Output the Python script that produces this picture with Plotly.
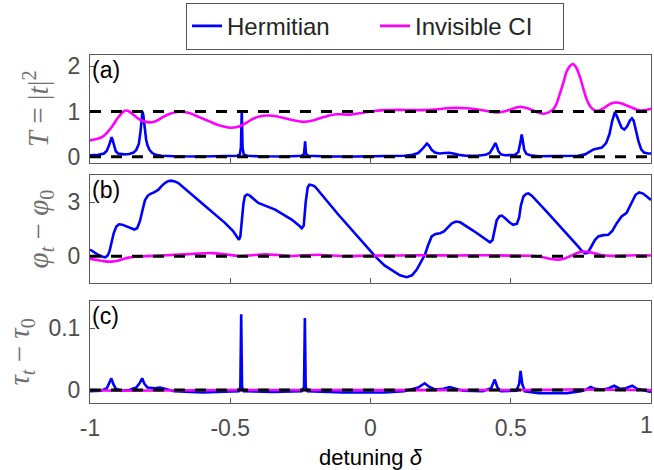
import plotly.graph_objects as go

# ---------------- data ----------------
herm_T_x = [-1.0, -0.97, -0.95, -0.94, -0.932, -0.926, -0.923, -0.92, -0.915, -0.908, -0.9, -0.88, -0.86,
            -0.845, -0.835, -0.826, -0.82, -0.816, -0.813, -0.81, -0.806, -0.8, -0.795, -0.788, -0.778, -0.765,
            -0.745, -0.7, -0.6, -0.5, -0.475, -0.466, -0.462, -0.459, -0.456, -0.452, -0.44, -0.4, -0.3, -0.245,
            -0.237, -0.233, -0.23, -0.222, -0.15, -0.05, 0.05, 0.12, 0.15, 0.17, 0.185, 0.195, 0.201, 0.208, 0.218,
            0.23, 0.245, 0.265, 0.28, 0.295, 0.315, 0.34, 0.38, 0.41, 0.425, 0.435, 0.442, 0.445, 0.449, 0.456,
            0.465, 0.48, 0.515, 0.527, 0.534, 0.539, 0.543, 0.548, 0.556, 0.57, 0.6, 0.7, 0.74, 0.765, 0.78, 0.795,
            0.81, 0.825, 0.84, 0.852, 0.862, 0.87, 0.876, 0.885, 0.895, 0.905, 0.915, 0.925, 0.932, 0.938, 0.945,
            0.955, 0.965, 0.975, 0.99, 1.0]
herm_T_y = [0.03, 0.04, 0.07, 0.13, 0.25, 0.39, 0.43, 0.38, 0.24, 0.12, 0.07, 0.05, 0.06,
            0.09, 0.15, 0.28, 0.55, 0.85, 1.0, 0.92, 0.65, 0.38, 0.25, 0.15, 0.08, 0.04,
            0.02, 0.01, 0.005, 0.01, 0.02, 0.05, 0.2, 1.0, 0.2, 0.05, 0.02, 0.008, 0.005, 0.02,
            0.06, 0.34, 0.06, 0.02, 0.005, 0.005, 0.008, 0.02, 0.04, 0.08, 0.17, 0.26, 0.29, 0.25, 0.15,
            0.09, 0.07, 0.08, 0.085, 0.07, 0.04, 0.02, 0.02, 0.04, 0.08, 0.18, 0.29, 0.30, 0.25, 0.12,
            0.05, 0.03, 0.04, 0.10, 0.30, 0.49, 0.35, 0.15, 0.06, 0.03, 0.01, 0.01, 0.02, 0.05, 0.10, 0.16,
            0.18, 0.20, 0.30, 0.50, 0.80, 0.96, 0.93, 0.78, 0.64, 0.60, 0.67, 0.80, 0.85, 0.80, 0.60,
            0.35, 0.16, 0.09, 0.07, 0.07]

invis_T_x = [-1.0, -0.97, -0.953, -0.935, -0.92, -0.905, -0.893, -0.882, -0.872, -0.86, -0.846, -0.83, -0.816,
             -0.8, -0.78, -0.76, -0.739, -0.715, -0.69, -0.665, -0.643, -0.62, -0.597, -0.57, -0.548, -0.52, -0.5,
             -0.48, -0.459, -0.44, -0.419, -0.395, -0.37, -0.34, -0.312, -0.28, -0.24, -0.205, -0.169, -0.14, -0.12,
             -0.1, -0.073, -0.04, 0.0, 0.046, 0.1, 0.165, 0.224, 0.27, 0.307, 0.345, 0.379, 0.415, 0.45, 0.475,
             0.497, 0.52, 0.539, 0.56, 0.58, 0.6, 0.616, 0.635, 0.652, 0.665, 0.676, 0.688, 0.699, 0.71, 0.721,
             0.733, 0.747, 0.76, 0.771, 0.785, 0.8, 0.815, 0.83, 0.842, 0.86, 0.875, 0.89, 0.91, 0.93, 0.95, 0.965,
             0.98, 1.0]
invis_T_y = [0.36, 0.40, 0.45, 0.56, 0.68, 0.82, 0.92, 0.99, 1.02, 1.0, 0.93, 0.85, 0.80,
             0.77, 0.76, 0.80, 0.88, 0.95, 0.99, 0.99, 0.96, 0.90, 0.84, 0.77, 0.71, 0.66, 0.64,
             0.65, 0.69, 0.76, 0.84, 0.89, 0.91, 0.90, 0.86, 0.81, 0.77, 0.80, 0.87, 0.92, 0.94,
             0.935, 0.93, 0.96, 1.0, 1.03, 1.035, 1.03, 1.04, 1.07, 1.08, 1.07, 1.05, 1.01, 0.98, 1.0,
             1.04, 1.09, 1.10, 1.07, 1.02, 0.97, 0.95, 0.98, 1.05, 1.20, 1.41, 1.65, 1.88, 2.0, 2.05,
             1.98, 1.76, 1.48, 1.26, 1.10, 1.02, 1.02, 1.07, 1.12, 1.18, 1.20, 1.19, 1.14, 1.09, 1.04, 1.02,
             1.03, 1.06]

herm_phi_x = [-1.0, -0.985, -0.97, -0.955, -0.945, -0.937, -0.93, -0.922, -0.915, -0.906, -0.897, -0.885, -0.87,
              -0.855, -0.842, -0.832, -0.822, -0.812, -0.804, -0.795, -0.786, -0.77, -0.756, -0.745, -0.733, -0.722,
              -0.711, -0.698, -0.685, -0.602, -0.519, -0.49, -0.475, -0.469, -0.464, -0.459, -0.453, -0.448, -0.44,
              -0.43, -0.4, -0.34, -0.281, -0.255, -0.245, -0.238, -0.231, -0.224, -0.218, -0.208, -0.198, -0.115,
              0.011, 0.022, 0.05, 0.081, 0.105, 0.129, 0.148, 0.165, 0.18, 0.194, 0.205, 0.218, 0.232, 0.248, 0.262,
              0.275, 0.29, 0.305, 0.32, 0.367, 0.41, 0.426, 0.435, 0.443, 0.45, 0.46, 0.468, 0.48, 0.495, 0.509,
              0.522, 0.53, 0.536, 0.545, 0.555, 0.563, 0.575, 0.628, 0.699, 0.74, 0.753, 0.765, 0.775, 0.789, 0.8,
              0.812, 0.83, 0.848, 0.862, 0.878, 0.895, 0.913, 0.922, 0.931, 0.945, 0.958, 0.97, 0.985, 1.0]
herm_phi_y = [0.38, 0.22, 0.07, -0.02, -0.05, 0.05, 0.3, 0.85, 1.3, 1.65, 1.77, 1.75, 1.66,
              1.55, 1.48, 1.55, 1.94, 2.6, 3.1, 3.33, 3.44, 3.55, 3.68, 3.88, 4.05, 4.15,
              4.18, 4.14, 4.05, 2.95, 1.85, 1.4, 1.05, 0.92, 1.1, 1.94, 2.9, 3.32, 3.42,
              3.35, 2.95, 2.58, 2.03, 1.7, 1.55, 1.7, 3.0, 3.8, 3.96, 3.93, 3.86, 2.31,
              0.11, -0.09, -0.5, -0.82, -1.05, -1.15, -1.05, -0.73, -0.3, 0.09, 0.6, 1.1, 1.24, 1.28, 1.38,
              1.6, 1.82, 1.92, 1.88, 1.41, 0.92, 0.77, 0.9, 1.5, 2.0, 2.22, 2.25, 2.1, 1.88, 1.74,
              1.8, 2.15, 2.8, 3.3, 3.45, 3.48, 3.35, 2.47, 1.28, 0.55, 0.3, 0.17, 0.2, 0.55, 0.9,
              1.1, 1.17, 1.19, 1.4, 1.83, 2.2, 2.4, 2.7, 3.02, 3.4, 3.53, 3.48, 3.3, 3.11]

invis_phi_x = [-1.0, -0.97, -0.945, -0.923, -0.9, -0.88, -0.863, -0.84, -0.8, -0.75, -0.7, -0.661, -0.62, -0.566,
               -0.52, -0.471, -0.43, -0.376, -0.33, -0.281, -0.24, -0.186, -0.14, -0.08, -0.03, 0.0, 0.1, 0.2, 0.3,
               0.4, 0.5, 0.57, 0.61, 0.645, 0.67, 0.695, 0.723, 0.745, 0.765, 0.79, 0.818, 0.85, 0.9, 0.95, 1.0]
invis_phi_y = [-0.14, -0.22, -0.28, -0.29, -0.24, -0.14, -0.07, -0.02, 0.01, 0.04, 0.08, 0.11, 0.15, 0.18,
               0.12, 0.02, 0.05, 0.11, 0.07, 0.02, 0.06, 0.09, 0.05, 0.01, 0.03, 0.04, 0.05, 0.06, 0.05,
               0.06, 0.04, 0.03, -0.04, -0.15, -0.18, -0.10, 0.09, 0.22, 0.27, 0.20, 0.09, 0.03, 0.04, 0.06, 0.05]

herm_tau_x = [-1.0, -0.96, -0.94, -0.932, -0.924, -0.917, -0.908, -0.89, -0.86, -0.835, -0.822, -0.814, -0.806,
              -0.795, -0.77, -0.75, -0.73, -0.7, -0.6, -0.5, -0.47, -0.464, -0.461, -0.458, -0.452, -0.35, -0.245,
              -0.237, -0.234, -0.231, -0.224, -0.1, 0.05, 0.12, 0.15, 0.17, 0.193, 0.21, 0.23, 0.26, 0.282, 0.3,
              0.33, 0.4, 0.43, 0.443, 0.452, 0.465, 0.52, 0.53, 0.535, 0.541, 0.55, 0.6, 0.7, 0.75, 0.77, 0.785,
              0.8, 0.83, 0.85, 0.869, 0.89, 0.91, 0.933, 0.95, 0.975, 1.0]
herm_tau_y = [-0.002, -0.001, 0.003, 0.01, 0.019, 0.01, 0.002, -0.001, 0.0, 0.004, 0.012, 0.019, 0.01,
              0.004, 0.003, 0.004, 0.002, -0.002, -0.004, -0.003, -0.002, 0.005, 0.123, 0.005, -0.002, -0.003, -0.002,
              0.005, 0.117, 0.005, -0.002, -0.004, -0.004, -0.002, 0.001, 0.004, 0.011, 0.005, 0.001, 0.002, 0.005, 0.003,
              -0.001, -0.002, 0.003, 0.017, 0.005, -0.002, -0.001, 0.01, 0.031, 0.01, -0.002, -0.005, -0.005, -0.002, 0.001, 0.005,
              0.002, 0.001, 0.003, 0.007, 0.002, 0.003, 0.007, 0.002, -0.001, -0.003]

invis_tau_x = [-1.0, -0.9, -0.5, 0.0, 0.5, 0.72, 1.0]
invis_tau_y = [0.0, -0.001, 0.0, 0.0, 0.0, 0.001, 0.0]

x_tickvals = [-1, -0.5, 0, 0.5, 1]
x_ticktext = ["-1", "-0.5", "0", "0.5", "1"]
panel_labels = ["(a)", "(b)", "(c)"]

# ---------------- figure ----------------
BLUE = "#0000ff"
MAG = "#ff00ff"
LW = 2.6
SANS = "Liberation Sans, Arial, sans-serif"

fig = go.Figure()
fig.add_trace(go.Scatter(x=herm_T_x, y=herm_T_y, mode="lines", name="Hermitian",
                         line=dict(color=BLUE, width=LW), xaxis="x", yaxis="y"))
fig.add_trace(go.Scatter(x=invis_T_x, y=invis_T_y, mode="lines", name="Invisible CI",
                         line=dict(color=MAG, width=LW, shape="spline", smoothing=0.6), xaxis="x", yaxis="y"))
fig.add_trace(go.Scatter(x=herm_phi_x, y=herm_phi_y, mode="lines", showlegend=False,
                         line=dict(color=BLUE, width=LW), xaxis="x2", yaxis="y2"))
fig.add_trace(go.Scatter(x=invis_phi_x, y=invis_phi_y, mode="lines", showlegend=False,
                         line=dict(color=MAG, width=LW, shape="spline", smoothing=0.6), xaxis="x2", yaxis="y2"))
fig.add_trace(go.Scatter(x=herm_tau_x, y=herm_tau_y, mode="lines", showlegend=False,
                         line=dict(color=BLUE, width=LW), xaxis="x3", yaxis="y3"))
fig.add_trace(go.Scatter(x=invis_tau_x, y=invis_tau_y, mode="lines", showlegend=False,
                         line=dict(color=MAG, width=LW, shape="spline"), xaxis="x3", yaxis="y3"))

# dashed reference lines
ref_lines = [("y", 0), ("y", 1), ("y2", 0), ("y3", 0)]
for yref, val in ref_lines:
    xr = {"y": "x", "y2": "x2", "y3": "x3"}[yref]
    fig.add_shape(type="line", xref=f"{xr} domain", x0=0, x1=1, yref=yref, y0=val, y1=val,
                  line=dict(color="black", width=3, dash="11px,10px"), layer="above")

AX_COL = "#5a5a5a"
TICK_FONT = dict(family=SANS, size=23, color="#4d4d4d")
TITLE_FONT = dict(family="Liberation Serif, DejaVu Serif, serif", size=29, color="#707070")

def xax(show_labels, anchor, ticktext):
    return dict(range=[-1, 1], tickvals=x_tickvals, ticktext=ticktext, showticklabels=show_labels,
                ticks="inside", ticklen=5, tickcolor=AX_COL, showline=True, linecolor=AX_COL, linewidth=1,
                mirror=True, showgrid=False, zeroline=False, tickfont=TICK_FONT, anchor=anchor, domain=[0, 1],
                automargin=False, ticklabelstandoff=4)

def yax(rng, tickvals, ticktext, domain, title, anchor):
    return dict(range=rng, tickvals=tickvals, ticktext=ticktext, ticks="inside", ticklen=5, tickcolor=AX_COL,
                showline=True, linecolor=AX_COL, linewidth=1, mirror=True, showgrid=False, zeroline=False,
                tickfont=TICK_FONT, domain=domain, anchor=anchor, automargin=False, ticklabelstandoff=4,
                title=dict(text=title, font=TITLE_FONT, standoff=10))

# last tick label ("1") sits at the right edge of the page; it is drawn as an annotation
# nudged inward so that it is not clipped
x3 = xax(True, "y3", x_ticktext[:-1] + [""])
x3["title"] = dict(text="detuning <i>δ</i>", font=dict(family=SANS, size=22, color="black"), standoff=10)

fig.update_layout(
    width=654, height=470,
    margin=dict(l=90, r=3, t=53, b=67),
    paper_bgcolor="white", plot_bgcolor="white",
    xaxis=xax(False, "y", x_ticktext),
    xaxis2=xax(False, "y2", x_ticktext),
    xaxis3=x3,
    yaxis=yax([-0.13, 2.25], [0, 1, 2], ["0", "1", "2"], [0.691, 1.0],
              "<i>T</i> = |<i>t</i>|<sup>2</sup>", "x"),
    yaxis2=yax([-1.45, 4.47], [0, 3], ["0", "3"], [0.346, 0.654],
               "<i>φ<sub>t</sub></i> − <i>φ</i><sub>0</sub>", "x2"),
    yaxis3=yax([-0.021, 0.145], [0, 0.1], ["0", "0.1"], [0.0, 0.294],
               "<i>τ<sub>t</sub></i> − <i>τ</i><sub>0</sub>", "x3"),
    legend=dict(orientation="h", x=0.508, xanchor="center", y=1.15, yanchor="top",
                bordercolor="#555555", borderwidth=1, bgcolor="white", entrywidth=143,
                font=dict(family=SANS, size=24, color="#262626")),
    showlegend=True,
)

fig.add_annotation(text=x_ticktext[-1], x=x_tickvals[-1], xref="x3", y=0, yref="y3 domain",
                   xanchor="center", yanchor="top", showarrow=False, xshift=-5, yshift=-7,
                   font=TICK_FONT)

for lab, xr, yr in zip(panel_labels, ["x", "x2", "x3"], ["y", "y2", "y3"]):
    fig.add_annotation(text=lab, xref=f"{xr} domain", yref=f"{yr} domain", x=0, y=1,
                       xanchor="left", yanchor="top", showarrow=False,
                       font=dict(family=SANS, size=23, color="black"))

fig.write_html("out.html", config={"displayModeBar": False},
               post_script="document.body.style.margin='0px';")
